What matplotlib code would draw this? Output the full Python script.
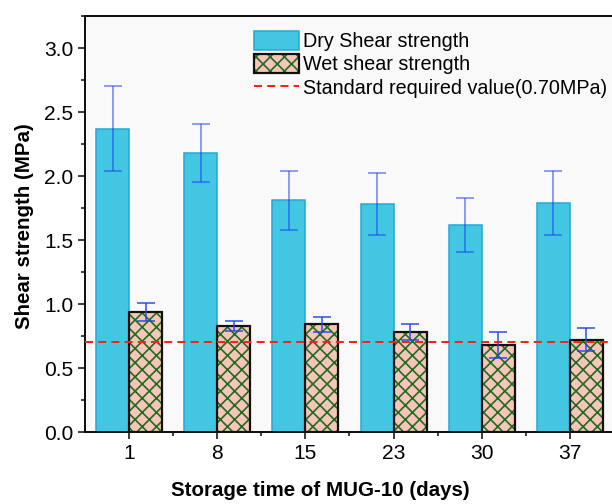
import matplotlib
matplotlib.use("Agg")
import matplotlib.pyplot as plt
import numpy as np
from matplotlib.patches import Patch
from matplotlib.lines import Line2D

# ---- data ----
categories = ["1", "8", "15", "23", "30", "37"]
dry_values = [2.37, 2.18, 1.81, 1.78, 1.62, 1.79]
dry_errors = [0.33, 0.23, 0.23, 0.24, 0.21, 0.25]
wet_values = [0.94, 0.83, 0.84, 0.78, 0.68, 0.72]
wet_errors = [0.07, 0.04, 0.06, 0.06, 0.10, 0.09]
standard_value = 0.70
legend_labels = ["Dry Shear strength", "Wet shear strength",
                 "Standard required value(0.70MPa)"]

DPI = 128
def pt(px):
    return px * 72.0 / DPI

plt.rcParams['font.family'] = ['Liberation Sans', 'DejaVu Sans']
plt.rcParams['hatch.linewidth'] = 0.95

fig = plt.figure(figsize=(612 / DPI, 504 / DPI), dpi=DPI, facecolor='white')
W, H = 612, 504
ax = fig.add_axes([85 / W, (H - 432) / H, (614 - 85) / W, (432 - 16) / H])
ax.set_facecolor('#f9f9f9')

x = np.arange(len(categories))
bw = 0.375
dry_color = '#42C6E2'
dry_edge = '#1FA8D8'
wet_fill = '#F9C5BB'
hatch_green = '#1E6E1E'
HATCH = 'xxx'

ax.bar(x - bw / 2, dry_values, bw, color=dry_color, edgecolor=dry_edge,
       linewidth=pt(1.5), zorder=2)
ax.bar(x + bw / 2, wet_values, bw, color=wet_fill, edgecolor='none',
       linewidth=0, zorder=2)
ax.bar(x + bw / 2, wet_values, bw, color='none', edgecolor=hatch_green,
       hatch=HATCH, linewidth=0, zorder=3)
ax.bar(x + bw / 2, wet_values, bw, fill=False, edgecolor='#111111',
       linewidth=pt(2.2), zorder=4)

ax.errorbar(x - bw / 2, dry_values, yerr=dry_errors, fmt='none',
            ecolor='#1a3cf0', alpha=0.6, elinewidth=pt(1.6),
            capsize=pt(9), capthick=pt(1.6), zorder=5)
ax.errorbar(x + bw / 2, wet_values, yerr=wet_errors, fmt='none',
            ecolor='#2345e6', alpha=0.9, elinewidth=pt(1.6),
            capsize=pt(9), capthick=pt(1.6), zorder=5)

ax.axhline(standard_value, color='#ff1f1f', linestyle=(0, (4, 2.6)),
           linewidth=pt(2), zorder=6)

ax.set_xlim(-0.5, 5.5)
ax.set_ylim(0, 3.25)
ax.set_xticks(x)
ax.set_xticklabels(categories)
ax.set_xticks(x[:-1] + 0.5, minor=True)
ax.set_yticks(np.arange(0, 3.01, 0.5))
ax.set_yticklabels([f"{v:.1f}" for v in np.arange(0, 3.01, 0.5)])
ax.set_yticks(np.arange(0.25, 3.26, 0.5), minor=True)

for s in ax.spines.values():
    s.set_linewidth(pt(2))
    s.set_color('#111111')

ax.tick_params(axis='both', which='major', direction='out', length=pt(7),
               width=pt(1.6), labelsize=pt(21), color='#111111')
ax.tick_params(axis='both', which='minor', direction='out', length=pt(4),
               width=pt(1.6), color='#111111')
ax.tick_params(axis='y', which='major', pad=pt(5))
ax.tick_params(axis='x', which='major', pad=pt(5))

ax.set_xlabel("Storage time of MUG-10 (days)", fontsize=pt(20.5),
              fontweight='bold')
ax.set_ylabel("Shear strength (MPa)", fontsize=pt(20.5),
              fontweight='bold')
# label centres in pixel positions of the reference
ax.xaxis.set_label_coords((320 - 85) / (614 - 85), -(490 - 432) / (432 - 16))
ax.xaxis.label.set_va('center')
ax.yaxis.set_label_coords(-(85 - 25) / (614 - 85), (432 - 226) / (432 - 16))
ax.yaxis.label.set_va('center')

h_dry = Patch(facecolor=dry_color, edgecolor=dry_edge, linewidth=pt(1.5))
h_wet = (Patch(facecolor=wet_fill, edgecolor='none', linewidth=0),
         Patch(facecolor='none', edgecolor=hatch_green, hatch=HATCH, linewidth=0),
         Patch(fill=False, edgecolor='#111111', linewidth=pt(2.2)))
h_std = Line2D([0], [0], color='#ff1f1f', linestyle=(0, (4, 2.6)),
               linewidth=pt(2))
leg = ax.legend([h_dry, h_wet, h_std], legend_labels,
                loc='upper left', bbox_to_anchor=(244 / W, 1 - 21 / H),
                bbox_transform=fig.transFigure, frameon=False,
                fontsize=pt(19.7), borderpad=0, handlelength=2.3,
                handleheight=1.08, labelspacing=0.18, handletextpad=0.2)

fig.savefig("out.png", dpi=DPI, facecolor='white')
